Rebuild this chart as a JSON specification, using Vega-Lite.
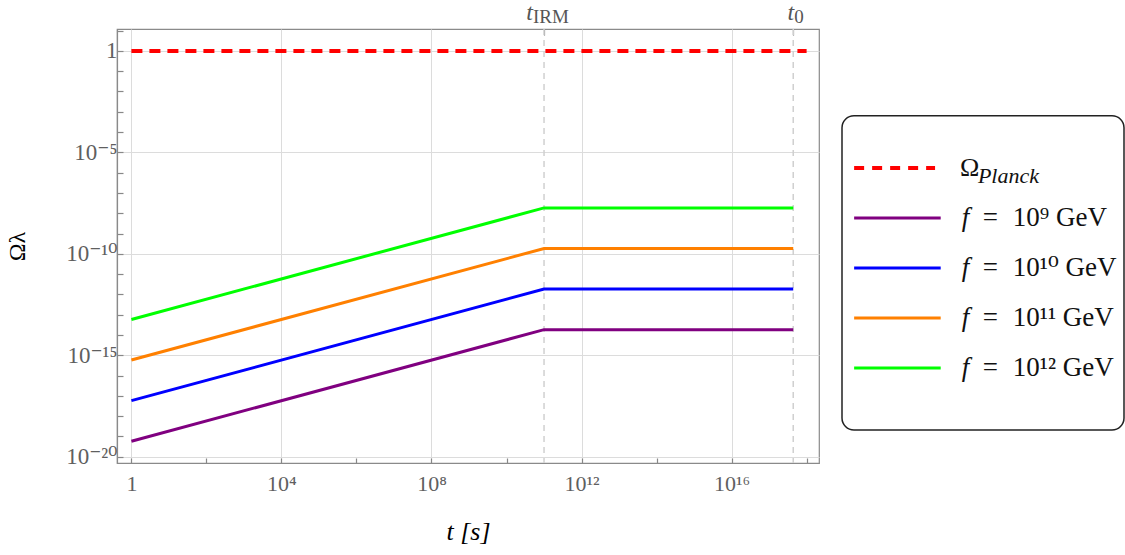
{
  "$schema": "https://vega.github.io/schema/vega-lite/v6.json",
  "background": "white",
  "padding": {"left": 5, "top": 0, "right": 1, "bottom": 5},
  "config": {
    "font": "Liberation Serif, DejaVu Serif",
    "axis": {"labelFont": "Liberation Serif, DejaVu Serif", "titleFont": "Liberation Serif, DejaVu Serif"}
  },
  "datasets": {
    "curves": [
      {"series": "Planck", "t": 1, "omega": 1},
      {"series": "Planck", "t": 1e18, "omega": 1},
      {"series": "f9", "t": 1, "omega": 5.8e-20},
      {"series": "f9", "t": 1e11, "omega": 1.83e-14},
      {"series": "f9", "t": 4.4e17, "omega": 1.83e-14},
      {"series": "f10", "t": 1, "omega": 5.8e-18},
      {"series": "f10", "t": 1e11, "omega": 1.83e-12},
      {"series": "f10", "t": 4.4e17, "omega": 1.83e-12},
      {"series": "f11", "t": 1, "omega": 5.8e-16},
      {"series": "f11", "t": 1e11, "omega": 1.83e-10},
      {"series": "f11", "t": 4.4e17, "omega": 1.83e-10},
      {"series": "f12", "t": 1, "omega": 5.8e-14},
      {"series": "f12", "t": 1e11, "omega": 1.83e-8},
      {"series": "f12", "t": 4.4e17, "omega": 1.83e-8}
    ],
    "epochs": [
      {"epoch": "IRM", "t": 1e11, "lead": "t", "sub": "IRM"},
      {"epoch": "today", "t": 4.4e17, "lead": "t", "sub": "0"}
    ],
    "entries": [
      {"series": "Planck", "lead": "Ω", "sub": "Planck", "eq": "", "rest": ""},
      {"series": "f9", "lead": "f", "sub": "", "eq": "=", "rest": "10⁹ GeV"},
      {"series": "f10", "lead": "f", "sub": "", "eq": "=", "rest": "10¹⁰ GeV"},
      {"series": "f11", "lead": "f", "sub": "", "eq": "=", "rest": "10¹¹ GeV"},
      {"series": "f12", "lead": "f", "sub": "", "eq": "=", "rest": "10¹² GeV"}
    ],
    "frame": [{"box": "legend"}]
  },
  "bounds": "flush",
  "spacing": 23,
  "hconcat": [
    {
      "width": 702,
      "height": 434,
      "view": {"stroke": "#8a8a8a", "strokeWidth": 1.2},
      "resolve": {"axis": {"x": "independent"}},
      "layer": [
        {
          "data": {"name": "epochs"},
          "mark": {"type": "rule", "color": "#d0d0d0", "strokeWidth": 1.5, "strokeDash": [6, 5]},
          "encoding": {
            "x": {
              "field": "t", "type": "quantitative",
              "scale": {"type": "log", "domain": [0.413, 2.14e18], "nice": false},
              "axis": {
                "orient": "top", "values": [1e11, 4.4e17], "labels": false, "grid": false,
                "domain": false, "ticks": true, "tickSize": -6, "tickColor": "#777777", "tickWidth": 1.2,
                "title": null
              }
            }
          }
        },
        {
          "data": {"name": "curves"},
          "transform": [{"filter": "datum.series !== 'Planck'"}],
          "mark": {"type": "line", "strokeWidth": 3},
          "encoding": {
            "x": {
              "field": "t", "type": "quantitative",
              "axis": {
                "orient": "bottom",
                "values": [1, 1e2, 1e4, 1e6, 1e8, 1e10, 1e12, 1e14, 1e16, 1e18],
                "labelExpr": "datum.value === 1 ? '1' : round(log(datum.value)/LN10) === 4 ? '10⁴' : round(log(datum.value)/LN10) === 8 ? '10⁸' : round(log(datum.value)/LN10) === 12 ? '10¹²' : round(log(datum.value)/LN10) === 16 ? '10¹⁶' : ''",
                "labelFontSize": 22, "labelColor": "#5f5f5f", "labelPadding": 15,
                "labelFlush": false, "labelOverlap": false,
                "tickSize": -5, "tickColor": "#888888", "tickWidth": 1.2,
                "domainColor": "#8a8a8a", "domainWidth": 1.2,
                "grid": true, "gridColor": "#dcdcdc", "gridWidth": 1,
                "gridOpacity": {"condition": {"test": "round(log(datum.value)/LN10) % 4 === 0", "value": 1}, "value": 0},
                "title": "t [s]", "titleFontStyle": "italic", "titleFontSize": 26,
                "titleFontWeight": "normal", "titleColor": "#000000", "titlePadding": 24
              }
            },
            "y": {
              "field": "omega", "type": "quantitative",
              "scale": {"type": "log", "domain": [4.9e-21, 12], "nice": false},
              "axis": {
                "orient": "left",
                "values": [10, 1, 1e-1, 1e-2, 1e-3, 1e-4, 1e-5, 1e-6, 1e-7, 1e-8, 1e-9, 1e-10, 1e-11, 1e-12, 1e-13, 1e-14, 1e-15, 1e-16, 1e-17, 1e-18, 1e-19, 1e-20],
                "labelExpr": "datum.value === 1 ? '1' : round(log(datum.value)/LN10) === -5 ? '10⁻⁵' : round(log(datum.value)/LN10) === -10 ? '10⁻¹⁰' : round(log(datum.value)/LN10) === -15 ? '10⁻¹⁵' : round(log(datum.value)/LN10) === -20 ? '10⁻²⁰' : ''",
                "labelFontSize": 23, "labelColor": "#5f5f5f", "labelPadding": 6,
                "labelFlush": false, "labelOverlap": false,
                "tickSize": -6, "tickColor": "#888888", "tickWidth": 1.2,
                "domainColor": "#8a8a8a", "domainWidth": 1.2,
                "grid": true, "gridColor": "#dcdcdc", "gridWidth": 1,
                "gridOpacity": {"condition": {"test": "round(log(datum.value)/LN10) % 5 === 0", "value": 1}, "value": 0},
                "title": "Ωλ", "titleFontSize": 24, "titleFontWeight": "normal",
                "titleColor": "#000000", "titlePadding": 36
              }
            },
            "color": {
              "field": "series", "type": "nominal",
              "scale": {"domain": ["Planck", "f9", "f10", "f11", "f12"], "range": ["#ff0000", "#800080", "#0000ff", "#ff8000", "#00ff00"]},
              "legend": null
            }
          }
        },
        {
          "data": {"name": "curves"},
          "transform": [{"filter": "datum.series === 'Planck'"}],
          "mark": {"type": "line", "strokeWidth": 4, "strokeDash": [11, 7], "color": "#ff0000"},
          "encoding": {
            "x": {"field": "t", "type": "quantitative", "axis": null},
            "y": {"field": "omega", "type": "quantitative"}
          }
        },
        {
          "data": {"name": "epochs"},
          "transform": [{"filter": "datum.epoch === 'IRM'"}],
          "mark": {"type": "text", "align": "right", "baseline": "alphabetic", "dx": -11, "fontSize": 24, "fontStyle": "italic", "color": "#555555"},
          "encoding": {
            "x": {"field": "t", "type": "quantitative", "axis": null},
            "y": {"datum": 34, "type": "quantitative"},
            "text": {"field": "lead"}
          }
        },
        {
          "data": {"name": "epochs"},
          "transform": [{"filter": "datum.epoch === 'IRM'"}],
          "mark": {"type": "text", "align": "left", "baseline": "alphabetic", "dx": -11, "dy": 3, "fontSize": 19, "color": "#555555"},
          "encoding": {
            "x": {"field": "t", "type": "quantitative", "axis": null},
            "y": {"datum": 34, "type": "quantitative"},
            "text": {"field": "sub"}
          }
        },
        {
          "data": {"name": "epochs"},
          "transform": [{"filter": "datum.epoch === 'today'"}],
          "mark": {"type": "text", "align": "right", "baseline": "alphabetic", "dx": 1, "fontSize": 24, "fontStyle": "italic", "color": "#555555"},
          "encoding": {
            "x": {"field": "t", "type": "quantitative", "axis": null},
            "y": {"datum": 34, "type": "quantitative"},
            "text": {"field": "lead"}
          }
        },
        {
          "data": {"name": "epochs"},
          "transform": [{"filter": "datum.epoch === 'today'"}],
          "mark": {"type": "text", "align": "left", "baseline": "alphabetic", "dx": 1, "dy": 3, "fontSize": 19, "color": "#555555"},
          "encoding": {
            "x": {"field": "t", "type": "quantitative", "axis": null},
            "y": {"datum": 34, "type": "quantitative"},
            "text": {"field": "sub"}
          }
        }
      ]
    },
    {
      "width": 282,
      "height": 434,
      "view": {"stroke": null},
      "resolve": {"scale": {"y": "independent"}},
      "layer": [
        {
          "data": {"name": "frame"},
          "mark": {"type": "rect", "fill": "#ffffff", "stroke": "#222222", "strokeWidth": 1.5, "cornerRadius": 12},
          "encoding": {
            "x": {"datum": 0, "type": "quantitative", "scale": {"domain": [0, 1]}, "axis": null},
            "x2": {"datum": 1},
            "y": {"datum": 0.2, "type": "quantitative", "scale": {"domain": [0, 1], "reverse": true}, "axis": null},
            "y2": {"datum": 0.924}
          }
        },
        {
          "data": {"name": "entries"},
          "layer": [
            {
              "transform": [{"filter": "datum.series !== 'Planck'"}],
              "mark": {"type": "rule", "strokeWidth": 3},
              "encoding": {
                "x": {"datum": 0.043, "type": "quantitative", "axis": null},
                "x2": {"datum": 0.35},
                "color": {
                  "field": "series", "type": "nominal",
                  "scale": {"domain": ["Planck", "f9", "f10", "f11", "f12"], "range": ["#ff0000", "#800080", "#0000ff", "#ff8000", "#00ff00"]},
                  "legend": null
                }
              }
            },
            {
              "transform": [{"filter": "datum.series === 'Planck'"}],
              "mark": {"type": "rule", "strokeWidth": 4, "strokeDash": [10, 8], "color": "#ff0000"},
              "encoding": {
                "x": {"datum": 0.043, "type": "quantitative", "axis": null},
                "x2": {"datum": 0.33}
              }
            },
            {
              "mark": {"type": "text", "align": "left", "baseline": "middle", "fontSize": 27, "fontStyle": "italic", "color": "#111111"},
              "encoding": {
                "x": {"datum": 0.425, "type": "quantitative", "axis": null},
                "text": {"field": "lead"},
                "opacity": {"condition": {"test": "datum.series === 'Planck'", "value": 0}, "value": 1}
              }
            },
            {
              "mark": {"type": "text", "align": "left", "baseline": "middle", "dx": 21, "fontSize": 27, "color": "#111111"},
              "encoding": {
                "x": {"datum": 0.425, "type": "quantitative", "axis": null},
                "text": {"field": "eq"}
              }
            },
            {
              "mark": {"type": "text", "align": "left", "baseline": "middle", "dx": 51, "fontSize": 27, "color": "#111111"},
              "encoding": {
                "x": {"datum": 0.425, "type": "quantitative", "axis": null},
                "text": {"field": "rest"}
              }
            },
            {
              "transform": [{"filter": "datum.series === 'Planck'"}],
              "mark": {"type": "text", "align": "left", "baseline": "middle", "fontSize": 26, "color": "#111111"},
              "encoding": {
                "x": {"datum": 0.418, "type": "quantitative", "axis": null},
                "text": {"field": "lead"}
              }
            },
            {
              "transform": [{"filter": "datum.series === 'Planck'"}],
              "mark": {"type": "text", "align": "left", "baseline": "middle", "dx": 18, "dy": 8, "fontSize": 22, "fontStyle": "italic", "color": "#111111"},
              "encoding": {
                "x": {"datum": 0.418, "type": "quantitative", "axis": null},
                "text": {"field": "sub"}
              }
            }
          ],
          "encoding": {
            "y": {
              "field": "series", "type": "nominal",
              "scale": {"type": "point", "domain": ["Planck", "f9", "f10", "f11", "f12"], "range": [114, 364]},
              "axis": null
            }
          }
        }
      ]
    }
  ]
}
